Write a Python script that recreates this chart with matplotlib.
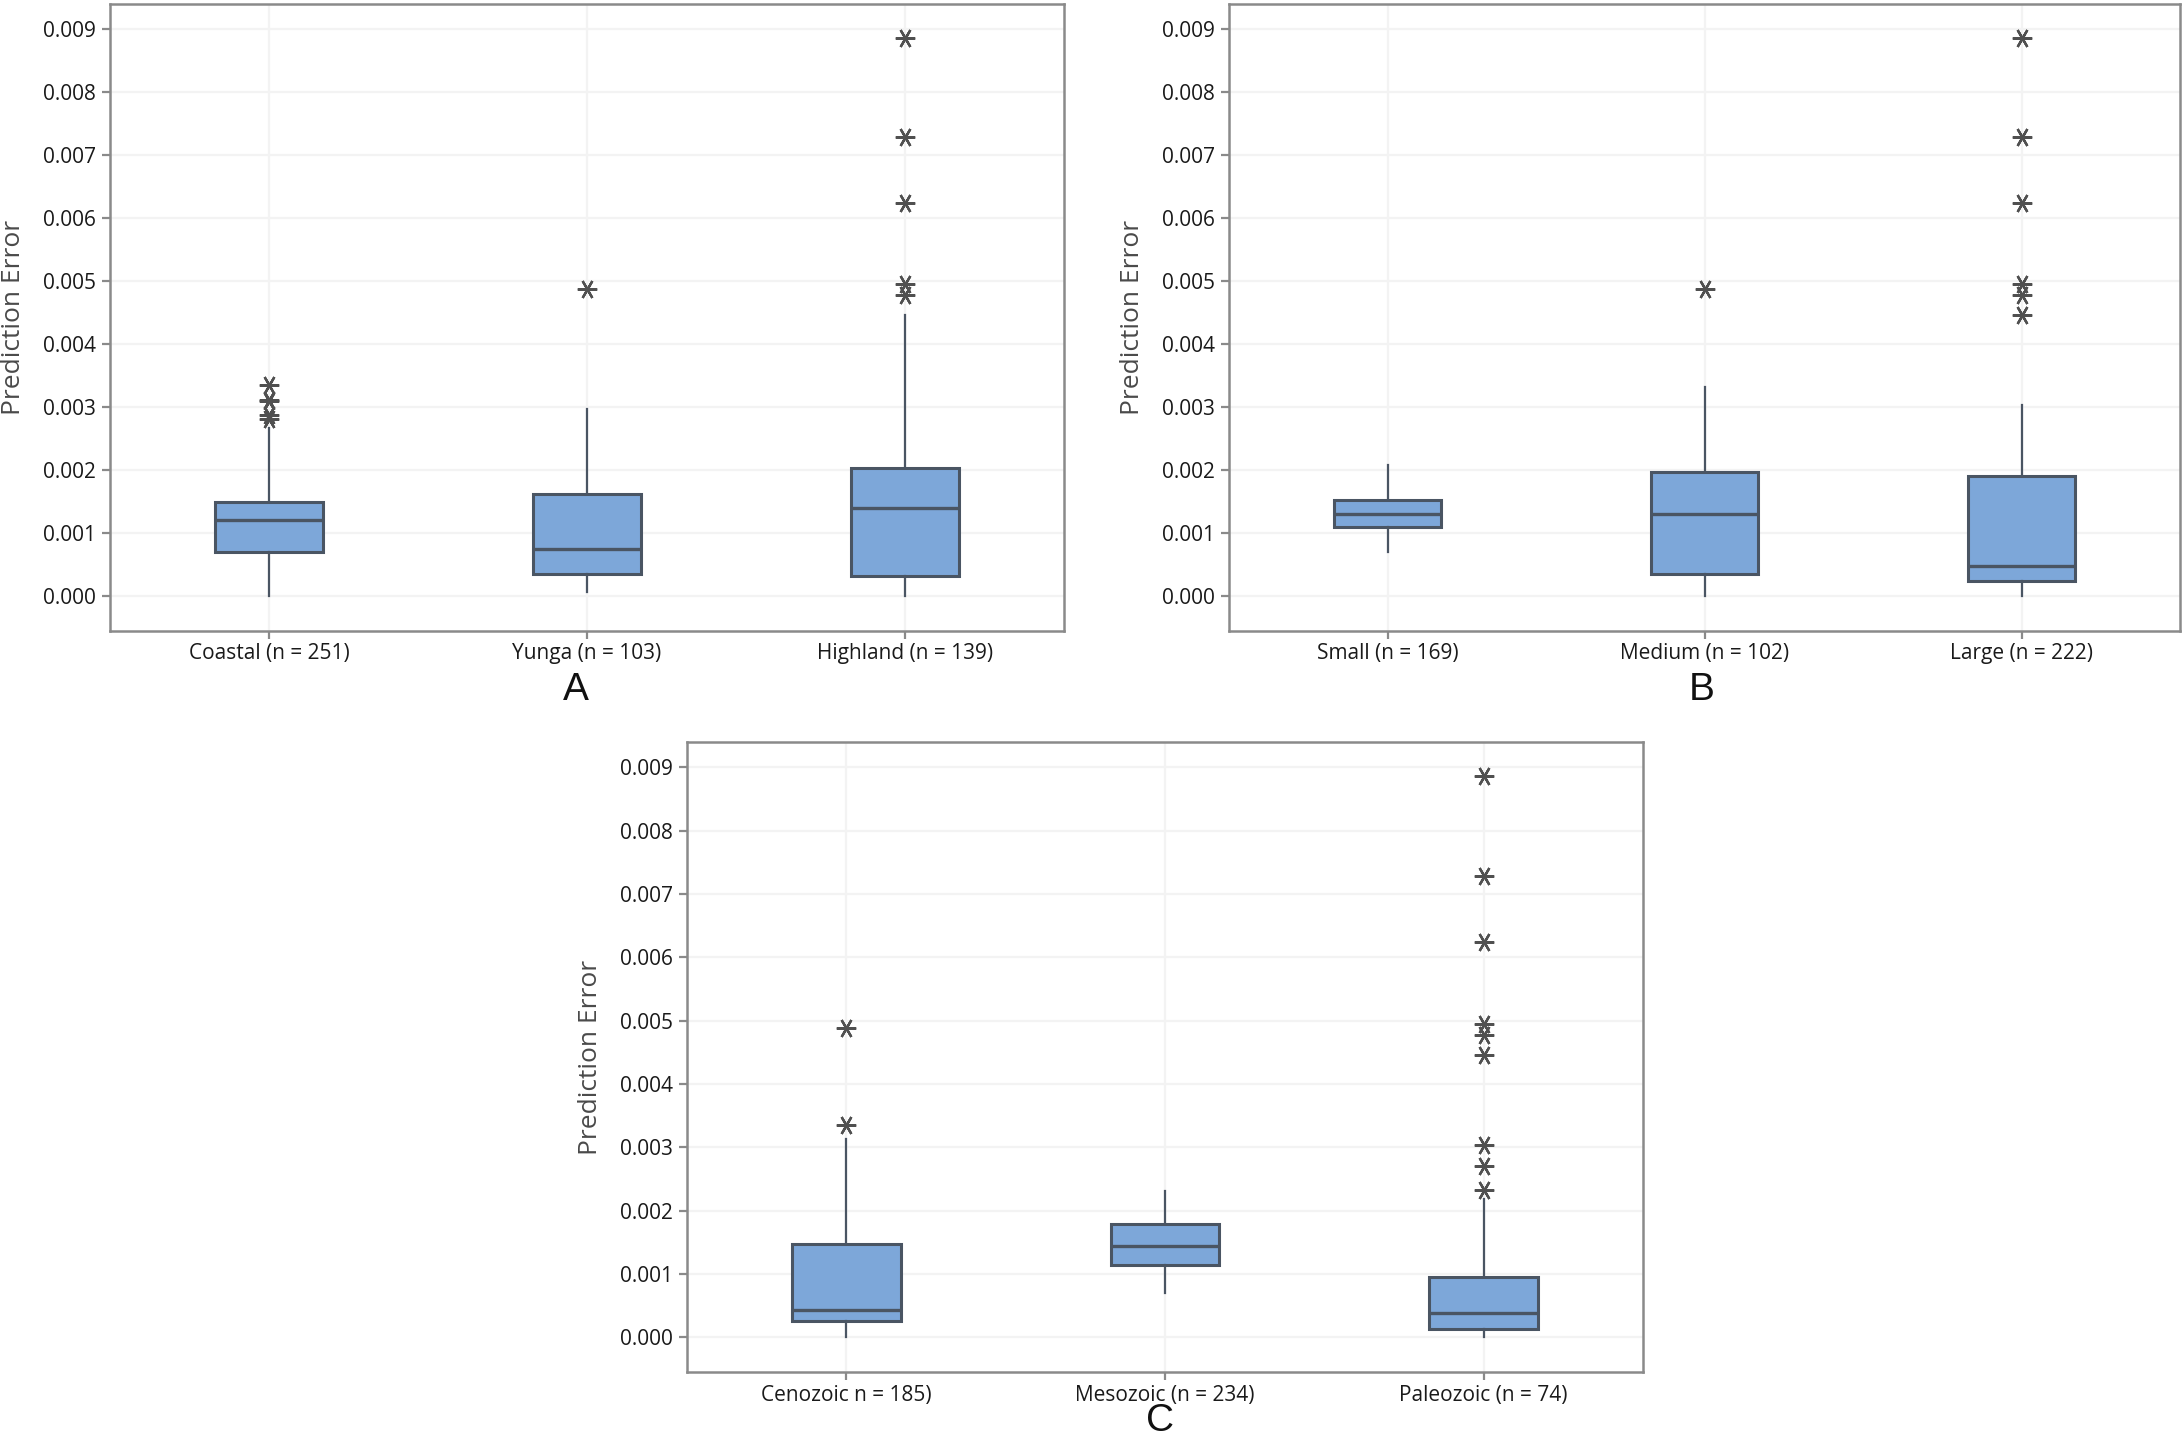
import matplotlib
matplotlib.use("Agg")
import matplotlib.pyplot as plt

plt.rcParams['font.family'] = ['Open Sans', 'DejaVu Sans']

# ---- data ----
labels_a = ["Coastal (n = 251)", "Yunga (n = 103)", "Highland (n = 139)"]
q1_a = [0.00070, 0.000355, 0.00032]
med_a = [0.00121, 0.000745, 0.001405]
q3_a = [0.00150, 0.001625, 0.002037]
lo_a = [0.00000, 0.000064, 0.00000]
hi_a = [0.00267, 0.00297, 0.00446]
out_a = [[0.00336, 0.00312, 0.00310, 0.00287, 0.00282],
         [0.00487],
         [0.00886, 0.00729, 0.00624, 0.00495, 0.00478]]

labels_b = ["Small (n = 169)", "Medium (n = 102)", "Large (n = 222)"]
q1_b = [0.001107, 0.000355, 0.000248]
med_b = [0.001306, 0.001306, 0.000476]
q3_b = [0.001533, 0.001973, 0.001909]
lo_b = [0.00070, 0.00000, 0.00000]
hi_b = [0.002087, 0.00333, 0.00304]
out_b = [[],
         [0.00487],
         [0.00886, 0.00729, 0.00624, 0.00495, 0.00478, 0.00446]]

labels_c = ["Cenozoic n = 185)", "Mesozoic (n = 234)", "Paleozoic (n = 74)"]
q1_c = [0.000255, 0.001145, 0.000124]
med_c = [0.000423, 0.001437, 0.000387]
q3_c = [0.001466, 0.001787, 0.000955]
lo_c = [0.00000, 0.00069, 0.00000]
hi_c = [0.00313, 0.00231, 0.00218]
out_c = [[0.00488, 0.00335],
         [],
         [0.00886, 0.00729, 0.00624, 0.00495, 0.00478, 0.00446,
          0.00303, 0.00271, 0.00233]]

yticks = [0.000, 0.001, 0.002, 0.003, 0.004, 0.005, 0.006, 0.007, 0.008, 0.009]
panel_letters = ["A", "B", "C"]

# ---- styling ----
FILL = "#7DA7D9"
EDGE = "#4A5563"
GRID = "#F3F3F3"
SPINE = "#8A8A8A"
TXT = "#1A1A1A"

W, H = 2184, 1438
DPI = 200
fig = plt.figure(figsize=(W / DPI, H / DPI), dpi=DPI)

rects = [
    (110 / W, 1 - 631 / H, 954 / W, 627 / H),
    (1229 / W, 1 - 631 / H, 951 / W, 627 / H),
    (687 / W, 1 - 1372 / H, 956 / W, 630 / H),
]
letter_pos = [(576 / W, 1 - 690 / H), (1702 / W, 1 - 690 / H), (1160 / W, 1 - 1421 / H)]

panels = [
    (labels_a, q1_a, med_a, q3_a, lo_a, hi_a, out_a),
    (labels_b, q1_b, med_b, q3_b, lo_b, hi_b, out_b),
    (labels_c, q1_c, med_c, q3_c, lo_c, hi_c, out_c),
]

for rect, (labs, q1, med, q3, lo, hi, outs), letter, lp in zip(rects, panels, panel_letters, letter_pos):
    ax = fig.add_axes(rect)
    stats = []
    for i in range(len(labs)):
        stats.append(dict(label=labs[i], q1=q1[i], med=med[i], q3=q3[i],
                          whislo=lo[i], whishi=hi[i], fliers=outs[i]))
    ax.bxp(stats, positions=range(len(labs)), widths=0.34, patch_artist=True,
           showcaps=False,
           boxprops=dict(facecolor=FILL, edgecolor=EDGE, linewidth=1.1),
           medianprops=dict(color=EDGE, linewidth=1.2),
           whiskerprops=dict(color=EDGE, linewidth=0.8),
           flierprops=dict(marker=(6, 2, 90), markersize=7, markeredgecolor="#505050",
                           markerfacecolor="none", markeredgewidth=0.85, linestyle="none"),
           zorder=3)
    ax.set_xlim(-0.5, 2.5)
    ax.set_ylim(-0.00055, 0.0094)
    ax.set_yticks(yticks)
    ax.set_yticklabels([f"{v:.3f}" for v in yticks])
    ax.set_xticks(range(len(labs)))
    ax.set_xticklabels(labs)
    ax.grid(True, color=GRID, linewidth=0.8, zorder=0)
    ax.set_axisbelow(True)
    for s in ax.spines.values():
        s.set_color(SPINE)
        s.set_linewidth(0.9)
    ax.tick_params(axis="both", direction="out", length=3, width=0.8, color=SPINE,
                   labelsize=7.5, labelcolor=TXT, pad=2)
    ax.tick_params(axis="x", pad=1.5)
    ax.set_ylabel("Prediction Error", fontsize=9.5, color="#4a4a4a", labelpad=6)
    fig.text(lp[0], lp[1], letter, fontsize=14, color="#111111", ha="center", va="center",
             family=["Liberation Sans", "DejaVu Sans"])

fig.savefig("out.png", dpi=DPI)
